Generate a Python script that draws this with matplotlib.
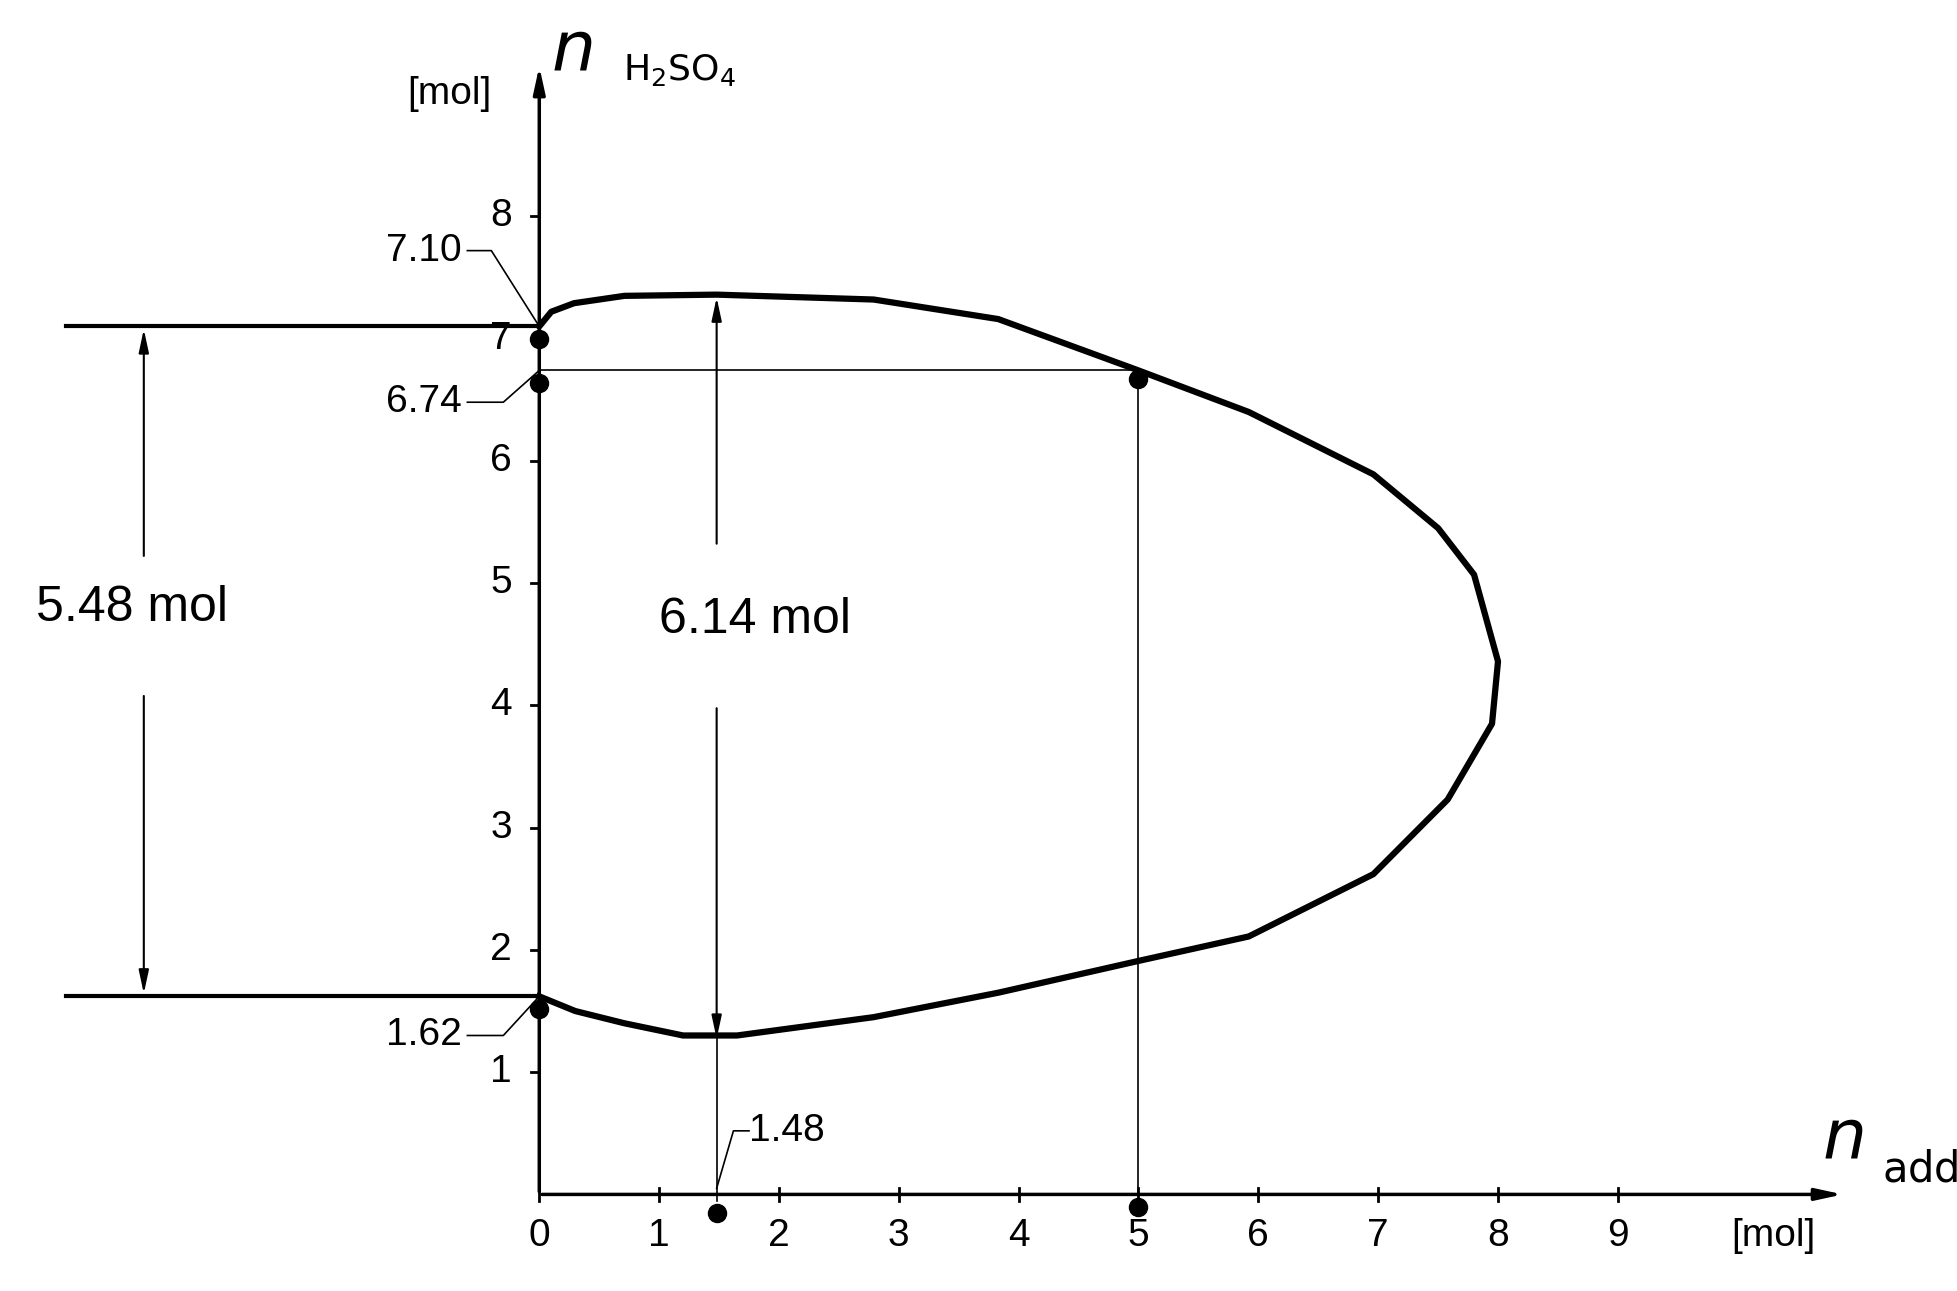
import matplotlib.pyplot as plt

# curve (n_add, n_H2SO4), upper branch then lower branch
curve_x = [0, 0.1, 0.29, 0.71, 1.48, 2.79, 3.83, 5.0, 5.92, 6.96, 7.5, 7.8, 8.0, 7.95, 7.58, 6.96, 5.92, 5.0, 3.83, 2.79, 1.65, 1.2, 0.71, 0.3, 0]
curve_y = [7.10, 7.22, 7.29, 7.35, 7.36, 7.32, 7.16, 6.74, 6.40, 5.89, 5.45, 5.07, 4.36, 3.85, 3.23, 2.62, 2.11, 1.91, 1.65, 1.45, 1.30, 1.30, 1.40, 1.50, 1.62]
dots_x = [0, 0, 0, 5.0, 1.48, 5.0]
dots_y = [7.00, 6.64, 1.52, 6.67, -0.15, -0.10]
xticks = [0, 1, 2, 3, 4, 5, 6, 7, 8, 9]
yticks = [1, 2, 3, 4, 5, 6, 7, 8]

plt.rcParams['font.family'] = ['Liberation Sans', 'DejaVu Sans']
fig = plt.figure(figsize=(19.57, 12.91), dpi=100)
ax = fig.add_axes([0, 0, 1, 1])
ax.set_xlim(-4.5, 11.83)
ax.set_ylim(-0.79, 9.77)
ax.axis('off')

ax.plot(curve_x, curve_y, color='black', lw=4.5, solid_joinstyle='round')
ax.plot(dots_x, dots_y, 'o', color='black', ms=13)

# axes with arrows
ax.annotate('', xy=(10.9, 0), xytext=(0, 0), arrowprops=dict(arrowstyle='-|>,head_length=1.6,head_width=0.35', lw=2.5, color='black'))
ax.annotate('', xy=(0, 9.25), xytext=(0, 0), arrowprops=dict(arrowstyle='-|>,head_length=1.6,head_width=0.35', lw=2.5, color='black'))
for t in xticks:
    ax.plot([t, t], [-0.05, 0.05], color='black', lw=2)
    ax.text(t, -0.34, str(t), ha='center', va='center', fontsize=28)
for t in yticks:
    ax.plot([-0.07, 0], [t, t], color='black', lw=2)
    ax.text(-0.32, t, str(t), ha='center', va='center', fontsize=28)
ax.text(10.3, -0.34, '[mol]', ha='center', va='center', fontsize=28)
ax.text(-0.75, 9.0, '[mol]', ha='center', va='center', fontsize=28)
ax.text(0.1, 9.35, r'$\mathit{n}$', ha='left', va='center', fontsize=50, family='DejaVu Serif')
ax.text(0.7, 9.2, r'$\mathrm{H_2SO_4}$', ha='left', va='center', fontsize=26, family='DejaVu Serif')
ax.text(10.7, 0.45, r'$\mathit{n}$', ha='left', va='center', fontsize=50, family='DejaVu Serif')
ax.text(11.2, 0.2, r'$\mathrm{add}$', ha='left', va='center', fontsize=30, family='DejaVu Serif')

# reference lines
ax.plot([-3.95, 0], [7.10, 7.10], color='black', lw=3)
ax.plot([-3.95, 0], [1.62, 1.62], color='black', lw=3)
ax.plot([0, 5], [6.74, 6.74], color='black', lw=1.2)
ax.plot([5, 5], [0, 6.74], color='black', lw=1.2)
ax.plot([1.48, 1.48], [-0.05, 1.3], color='black', lw=1.2)

# dimension arrows
ah = dict(arrowstyle='-|>,head_length=1.4,head_width=0.3', lw=1.5, color='black')
ax.annotate('', xy=(-3.3, 7.10), xytext=(-3.3, 5.2), arrowprops=ah)
ax.annotate('', xy=(-3.3, 1.62), xytext=(-3.3, 4.1), arrowprops=ah)
ax.annotate('', xy=(1.48, 7.36), xytext=(1.48, 5.3), arrowprops=ah)
ax.annotate('', xy=(1.48, 1.25), xytext=(1.48, 4.0), arrowprops=ah)
ax.text(-3.4, 4.8, '5.48 mol', ha='center', va='center', fontsize=36)
ax.text(1.8, 4.7, '6.14 mol', ha='center', va='center', fontsize=36)

# leader labels
ax.text(-0.65, 7.72, '7.10', ha='right', va='center', fontsize=28)
ax.plot([-0.6, -0.4, 0], [7.72, 7.72, 7.10], color='black', lw=1.2)
ax.text(-0.65, 6.48, '6.74', ha='right', va='center', fontsize=28)
ax.plot([-0.6, -0.3, 0], [6.48, 6.48, 6.74], color='black', lw=1.2)
ax.text(-0.65, 1.30, '1.62', ha='right', va='center', fontsize=28)
ax.plot([-0.6, -0.3, 0], [1.30, 1.30, 1.62], color='black', lw=1.2)
ax.text(1.75, 0.52, '1.48', ha='left', va='center', fontsize=28)
ax.plot([1.48, 1.62, 1.75], [0.05, 0.52, 0.52], color='black', lw=1.2)

fig.savefig('out.png', dpi=100)
